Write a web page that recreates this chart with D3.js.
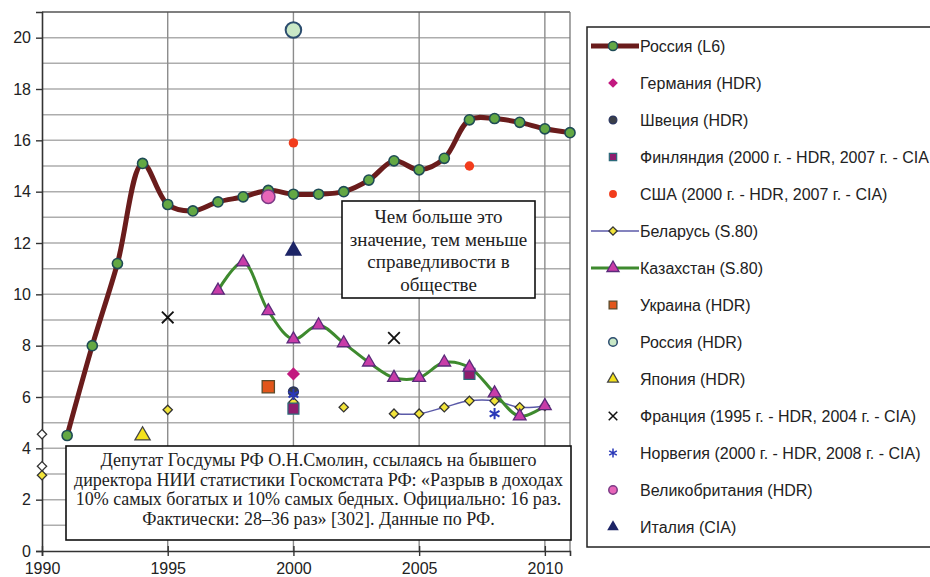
<!DOCTYPE html>
<html><head><meta charset="utf-8">
<script src="https://cdn.jsdelivr.net/npm/d3@7"></script>
<style>body{margin:0;background:#fff}svg{display:block}</style>
</head><body>
<svg id="c" width="930" height="577"></svg>
<script>
// ---- data ----
const russiaYears = d3.range(1991, 2012);
const russiaValues = [4.5, 8.0, 11.2, 15.1, 13.5, 13.25, 13.6, 13.8, 14.05, 13.9, 13.9, 14.0, 14.45, 15.2, 14.85, 15.3, 16.8, 16.85, 16.7, 16.45, 16.3];
const kazYears = d3.range(1997, 2011);
const kazValues = [10.15, 11.25, 9.35, 8.25, 8.8, 8.1, 7.35, 6.75, 6.75, 7.35, 7.15, 6.15, 5.25, 5.65];
const belarusYears = [1990, 1995, 2000, 2002, 2004, 2005, 2006, 2007, 2008, 2009, 2010];
const belarusValues = [2.95, 5.5, 5.8, 5.6, 5.35, 5.35, 5.6, 5.85, 5.85, 5.6, 5.65];
const otherYears = [1990, 1990];
const otherValues = [4.55, 3.3];
const germanyYears = [2000], germanyValues = [6.9];
const swedenYears = [2000], swedenValues = [6.2];
const finlandYears = [2000, 2007], finlandValues = [5.55, 6.9];
const usaYears = [2000, 2007], usaValues = [15.9, 15.0];
const ukraineYears = [1999], ukraineValues = [6.4];
const russiaHdrYears = [2000], russiaHdrValues = [20.3];
const japanYears = [1994], japanValues = [4.5];
const franceYears = [1995, 2004], franceValues = [9.1, 8.3];
const norwayYears = [2000, 2008], norwayValues = [6.1, 5.35];
const ukYears = [1999], ukValues = [13.8];
const italyYears = [2000], italyValues = [11.7];
const yTicks = [0, 2, 4, 6, 8, 10, 12, 14, 16, 18, 20];
const xTicks = [1990, 1995, 2000, 2005, 2010];
const legendLabels = ["Россия (L6)", "Германия (HDR)", "Швеция (HDR)", "Финляндия (2000 г. - HDR, 2007 г. - CIA",
  "США (2000 г. - HDR, 2007 г. - CIA)", "Беларусь (S.80)", "Казахстан (S.80)", "Украина (HDR)", "Россия (HDR)",
  "Япония (HDR)", "Франция (1995 г. - HDR, 2004 г. - CIA)", "Норвегия (2000 г. - HDR, 2008 г. - CIA)",
  "Великобритания (HDR)", "Италия (CIA)"];
const note1Lines = ["Чем больше это", "значение, тем меньше", "справедливости в", "обществе"];
const note2Lines = ["Депутат Госдумы РФ О.Н.Смолин, ссылаясь на бывшего",
  "директора НИИ статистики Госкомстата РФ: «Разрыв в доходах",
  "10% самых богатых и 10% самых бедных. Официально: 16 раз.",
  "Фактически: 28–36 раз» [302]. Данные по РФ."];

// ---- layout ----
const svg = d3.select("#c");
const x = d3.scaleLinear().domain([1990, 2011]).range([42, 570]);
const y = d3.scaleLinear().domain([0, 21]).range([551, 12]);
const sans = "'Liberation Sans', Arial, sans-serif";
const serif = "'Liberation Serif', 'Times New Roman', serif";

// grid
const g = svg.append("g");
g.selectAll("line.h").data(d3.range(1, 21)).join("line")
  .attr("x1", x(1990)).attr("x2", x(2011)).attr("y1", d => y(d)).attr("y2", d => y(d))
  .attr("stroke", "#adadad").attr("stroke-width", 1.5);
g.selectAll("line.v").data(xTicks.slice(1)).join("line")
  .attr("x1", d => x(d)).attr("x2", d => x(d)).attr("y1", y(0)).attr("y2", y(21))
  .attr("stroke", "#8c8c8c").attr("stroke-width", 1.4);
g.append("line").attr("x1", x(1990)).attr("x2", x(2011)).attr("y1", y(21)).attr("y2", y(21)).attr("stroke", "#555").attr("stroke-width", 1.5);
g.append("line").attr("x1", x(2011)).attr("x2", x(2011)).attr("y1", y(21)).attr("y2", y(0)).attr("stroke", "#777").attr("stroke-width", 1.3);

// axes
const yAxis = d3.axisLeft(y).tickValues(yTicks).tickSize(6).tickPadding(5);
const ya = svg.append("g").attr("transform", `translate(${x(1990)},0)`).call(yAxis);
ya.select(".domain").attr("stroke", "#333").attr("stroke-width", 1.6);
ya.selectAll(".tick line").attr("stroke", "#333").attr("stroke-width", 1.4);
ya.selectAll("text").attr("font-family", sans).attr("font-size", 16).attr("fill", "#222");
const xAxis = d3.axisBottom(x).tickValues(xTicks).tickFormat(d3.format("d")).tickSize(5).tickPadding(7);
const xa = svg.append("g").attr("transform", `translate(0,${y(0)})`).call(xAxis);
xa.select(".domain").attr("stroke", "#333").attr("stroke-width", 1.6);
xa.selectAll(".tick line").attr("stroke", "#333").attr("stroke-width", 1.4).attr("y1", -5);
xa.selectAll("text").attr("font-family", sans).attr("font-size", 16).attr("fill", "#222");

const zip = (ys, vs) => ys.map((yr, i) => ({yr, v: vs[i]}));
const curve = d3.curveCatmullRom.alpha(0.5);

const sym = {
  circle: d3.symbolCircle, diamond: d3.symbolDiamond2, square: d3.symbolSquare,
  triangle: d3.symbolTriangle, cross: d3.symbolX, asterisk: d3.symbolAsterisk
};
function marks(parent, data, st) {
  parent.selectAll(null).data(data).join("path")
    .attr("transform", d => `translate(${x(d.yr)},${y(d.v)})`)
    .attr("d", d3.symbol().type(sym[st.shape]).size(st.size))
    .attr("fill", st.fill || "none").attr("stroke", st.stroke || "none")
    .attr("stroke-width", st.sw || 0);
}

const plot = svg.append("g");

const belData = zip(belarusYears, belarusValues);
const belFull = d3.range(1990, 2011).map(yr => { const f = belData.find(d => d.yr === yr); return {yr, v: f ? f.v : null}; });
plot.append("path").datum(belFull)
  .attr("d", d3.line().defined(d => d.v !== null).x(d => x(d.yr)).y(d => y(d.v)).curve(curve))
  .attr("fill", "none").attr("stroke", "#5b5aa8").attr("stroke-width", 1.5);

const rusData = zip(russiaYears, russiaValues);
plot.append("path").datum(rusData)
  .attr("d", d3.line().x(d => x(d.yr)).y(d => y(d.v)).curve(curve))
  .attr("fill", "none").attr("stroke", "#6a1c1c").attr("stroke-width", 5).attr("stroke-linejoin", "round");

const kazData = zip(kazYears, kazValues);
plot.append("path").datum(kazData)
  .attr("d", d3.line().x(d => x(d.yr)).y(d => y(d.v)).curve(curve))
  .attr("fill", "none").attr("stroke", "#3e8a2e").attr("stroke-width", 3);

const styles = {
  russia: {shape: "circle", size: 80, fill: "#63a844", stroke: "#1e4b55", sw: 1.6},
  germany: {shape: "diamond", size: 110, fill: "#c2187f"},
  sweden: {shape: "circle", size: 80, fill: "#3b3f48", stroke: "#2a3560", sw: 1.2},
  finland: {shape: "square", size: 120, fill: "#8e1d6e", stroke: "#2b6a7a", sw: 1.2},
  usa: {shape: "circle", size: 70, fill: "#f23c1c"},
  belarus: {shape: "diamond", size: 55, fill: "#f2e43a", stroke: "#333", sw: 1.3},
  kaz: {shape: "triangle", size: 70, fill: "#c83ca8", stroke: "#5a2a7a", sw: 1.3},
  ukraine: {shape: "square", size: 150, fill: "#e2561a", stroke: "#5a4a2a", sw: 1.3},
  russiaHdr: {shape: "circle", size: 190, fill: "#c9e8c6", stroke: "#2b4c6e", sw: 2},
  japan: {shape: "triangle", size: 100, fill: "#f4e21c", stroke: "#444", sw: 1.3},
  france: {shape: "cross", size: 90, stroke: "#111", sw: 1.8},
  norway: {shape: "asterisk", size: 90, stroke: "#2a38b8", sw: 2},
  uk: {shape: "circle", size: 140, fill: "#e765b8", stroke: "#7c3a86", sw: 1.5},
  italy: {shape: "triangle", size: 130, fill: "#1c2466"},
  other: {shape: "diamond", size: 55, fill: "#fff", stroke: "#333", sw: 1.3}
};

marks(plot, zip(belarusYears, belarusValues), styles.belarus);
marks(plot, zip(otherYears, otherValues), styles.other);
marks(plot, rusData, styles.russia);
marks(plot, zip(germanyYears, germanyValues), styles.germany);
marks(plot, zip(finlandYears, finlandValues), styles.finland);
marks(plot, zip(swedenYears, swedenValues), styles.sweden);
marks(plot, zip(usaYears, usaValues), styles.usa);
marks(plot, kazData, styles.kaz);
marks(plot, zip(ukraineYears, ukraineValues), styles.ukraine);
marks(plot, zip(russiaHdrYears, russiaHdrValues), styles.russiaHdr);
marks(plot, zip(japanYears, japanValues), styles.japan);
marks(plot, zip(franceYears, franceValues), styles.france);
marks(plot, zip(norwayYears, norwayValues), styles.norway);
marks(plot, zip(ukYears, ukValues), styles.uk);
marks(plot, zip(italyYears, italyValues), styles.italy);

function note(lines, bx, by, bw, bh, fs, lh, firstY) {
  const n = svg.append("g");
  n.append("rect").attr("x", bx).attr("y", by).attr("width", bw).attr("height", bh)
    .attr("fill", "#fff").attr("stroke", "#111").attr("stroke-width", 1.6);
  n.selectAll("text").data(lines).join("text")
    .attr("x", bx + bw / 2).attr("y", (d, i) => firstY + i * lh).attr("text-anchor", "middle")
    .attr("font-family", serif).attr("font-size", fs).attr("fill", "#222").text(d => d);
}
note(note1Lines, 342, 201, 193, 97, 19, 22.5, 223);
note(note2Lines, 66, 446, 505, 94, 18, 19.5, 466);

// legend
const leg = svg.append("g");
leg.append("rect").attr("x", 587).attr("y", 27).attr("width", 360).attr("height", 520)
  .attr("fill", "#fff").attr("stroke", "#222").attr("stroke-width", 1.5);
const legKeys = ["russia", "germany", "sweden", "finland", "usa", "belarus", "kaz", "ukraine", "russiaHdr", "japan", "france", "norway", "uk", "italy"];
const legLine = {russia: {c: "#6a1c1c", w: 5}, belarus: {c: "#5b5aa8", w: 1.5}, kaz: {c: "#3e8a2e", w: 3}};
const legScale = {russia: 0.8, germany: 0.55, sweden: 0.6, finland: 0.45, usa: 0.7, belarus: 0.8, kaz: 0.9, ukraine: 0.4, russiaHdr: 0.3, japan: 0.5, france: 0.55, norway: 0.6, uk: 0.4, italy: 0.45};
const legTextX = 640, legMaxW = 929 - legTextX;
legKeys.forEach((k, i) => {
  const cy = 46 + i * 37.0;
  const row = leg.append("g");
  if (legLine[k]) row.append("line").attr("x1", 591).attr("x2", 639).attr("y1", cy).attr("y2", cy)
    .attr("stroke", legLine[k].c).attr("stroke-width", legLine[k].w);
  const st = styles[k];
  row.append("path").attr("transform", `translate(613,${cy})`)
    .attr("d", d3.symbol().type(sym[st.shape]).size(st.size * legScale[k]))
    .attr("fill", st.fill || "none").attr("stroke", st.stroke || "none").attr("stroke-width", st.sw ? Math.min(st.sw, 1.5) : 0);
  const t = row.append("text").attr("x", legTextX).attr("y", cy + 5.5).attr("font-family", sans).attr("font-size", 16)
    .attr("fill", "#222").text(legendLabels[i]);
  if (t.node().getComputedTextLength() > legMaxW) t.attr("textLength", legMaxW).attr("lengthAdjust", "spacingAndGlyphs");
});
</script>
</body></html>
